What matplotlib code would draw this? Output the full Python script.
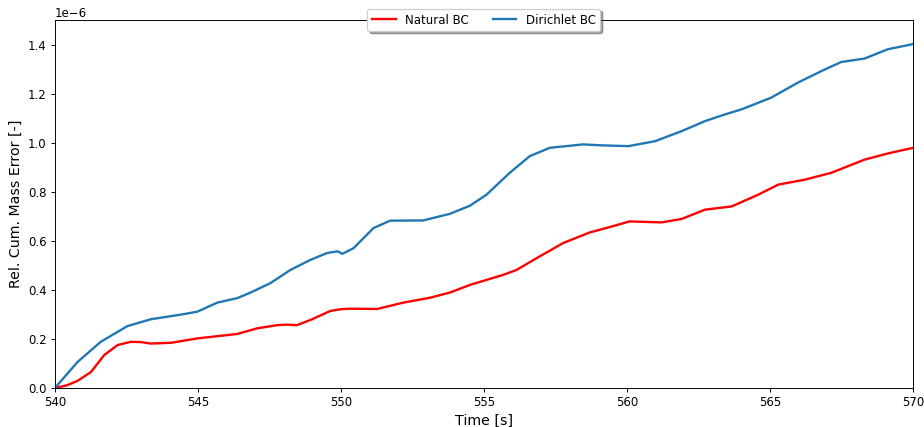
import numpy as np
import matplotlib
matplotlib.use('Agg')
import matplotlib.pyplot as plt

# values (y in units of 1e-6)
t_nat = [540.0, 540.4, 540.79, 541.26, 541.72, 542.19, 542.65, 543.0, 543.35, 544.05, 544.98,
         546.37, 547.07, 547.77, 548.1, 548.46, 548.93, 549.63, 550.0, 550.33, 551.26, 552.19,
         553.12, 553.81, 554.51, 555.67, 556.14, 556.84, 557.77, 558.7, 559.4, 560.09,
         561.21, 561.91, 562.73, 563.66, 564.59, 565.29, 566.21, 567.14, 568.31, 569.12,
         570.0]
y_nat = [0.0, 0.010, 0.029, 0.065, 0.134, 0.175, 0.188, 0.187, 0.181, 0.184, 0.202,
         0.220, 0.243, 0.256, 0.258, 0.256, 0.277, 0.314, 0.321, 0.323, 0.322, 0.348,
         0.368, 0.389, 0.420, 0.461, 0.481, 0.529, 0.591, 0.634, 0.656, 0.679,
         0.675, 0.689, 0.727, 0.740, 0.788, 0.829, 0.849, 0.877, 0.931, 0.956,
         0.979]

t_dir = [540.0, 540.79, 541.6, 542.53, 543.35, 544.51, 544.98, 545.68, 546.37, 546.84,
         547.53, 548.23, 548.93, 549.51, 549.88, 550.05, 550.44, 551.14, 551.72, 552.88,
         553.81, 554.51, 555.09, 555.9, 556.6, 557.3, 558.46, 559.16, 560.05, 560.98,
         561.91, 562.73, 563.42, 564.01, 565.05, 565.98, 566.8, 567.49, 568.31, 569.12,
         570.0]
y_dir = [0.0, 0.106, 0.188, 0.252, 0.280, 0.301, 0.311, 0.348, 0.366, 0.389,
         0.427, 0.481, 0.522, 0.550, 0.557, 0.547, 0.570, 0.652, 0.682, 0.683,
         0.710, 0.743, 0.788, 0.877, 0.945, 0.979, 0.993, 0.989, 0.986, 1.006,
         1.047, 1.088, 1.115, 1.136, 1.184, 1.245, 1.292, 1.329, 1.343, 1.381,
         1.402]

DPI = 85
fig, ax = plt.subplots(figsize=(924 / DPI, 427 / DPI), dpi=DPI)
fig.subplots_adjust(left=0.0595, right=0.988, top=0.953, bottom=0.0915)

ax.plot(t_nat, np.array(y_nat) * 1e-6, color='red', lw=2, label='Natural BC')
ax.plot(t_dir, np.array(y_dir) * 1e-6, color='#1f77b4', lw=2, label='Dirichlet BC')

ax.set_xlim(540, 570)
ax.set_ylim(0, 1.5e-6)
ax.set_xlabel('Time [s]', fontsize=12)
ax.set_ylabel('Rel. Cum. Mass Error [-]', fontsize=12)
ax.legend(loc='center', bbox_to_anchor=(0.5, 1.0), ncol=2, shadow=True, fontsize=10)

fig.savefig('out.png', dpi=DPI)
